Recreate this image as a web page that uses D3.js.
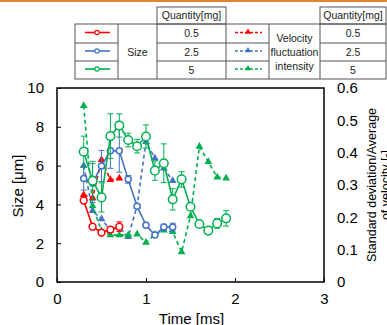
<!DOCTYPE html>
<html lang="en">
<head>
  <meta charset="UTF-8">
  <title>Size and velocity fluctuation intensity over time</title>
  <script src="https://d3js.org/d3.v7.min.js"></script>
  <style>
    body {
      margin: 0;
      background: #fff;
      font-family: "Liberation Sans", Arial, sans-serif;
    }
    .axis text {
      font-size: 15px;
      fill: #000;
    }
    .tbl text {
      font-size: 10.5px;
      fill: #222;
    }
  </style>
</head>
<body>
  <div id="chart"></div>
  <script>
    // data
    const timeRed = [0.3, 0.4, 0.5, 0.6, 0.7];
    const timeBlue = [0.3, 0.4, 0.5, 0.6, 0.7, 0.8, 0.9, 1.0, 1.1, 1.2, 1.3];
    const timeGreen = [0.3, 0.4, 0.5, 0.6, 0.7, 0.8, 0.9, 1.0, 1.1, 1.2, 1.3, 1.4, 1.5, 1.6, 1.7, 1.8, 1.9];

    const sizeRed = [4.2, 2.85, 2.55, 2.7, 2.85];
    const sizeRedErr = [0.1, 0.1, 0.1, 0.15, 0.25];
    const sizeBlue = [5.34, 5.1, 5.98, 6.76, 6.76, 5.29, 3.9, 2.93, 2.42, 2.83, 2.83];
    const sizeBlueErr = [0.6, 1.0, 0.8, 0.9, 1.1, 0.2, 0.1, 0.1, 0.1, 0.15, 0.2];
    const sizeGreen = [6.72, 5.22, 4.36, 7.52, 8.07, 7.32, 7.0, 7.5, 5.74, 6.12, 4.26, 5.29, 3.88, 2.99, 2.65, 3.02, 3.28];
    const sizeGreenErr = [0.8, 1.0, 0.75, 1.15, 0.6, 0.35, 0.35, 0.6, 0.5, 1.0, 0.55, 0.4, 0.1, 0.1, 0.1, 0.25, 0.4];

    const velRed = [0.27, 0.26, 0.378, 0.316, 0.321];
    const velBlue = [0.36, 0.22, 0.195, 0.16, 0.17, 0.14, 0.235, 0.434, 0.383, 0.352, 0.313];
    const velGreen = [0.545, 0.235, 0.158, 0.145, 0.145, 0.145, 0.148, 0.122, 0.147, 0.16, 0.155, 0.093, 0.204, 0.419, 0.372, 0.324, 0.321];

    const xTicks = [0, 1, 2, 3];
    const yTicks = [0, 2, 4, 6, 8, 10];
    const y2Ticks = [0, 0.1, 0.2, 0.3, 0.4, 0.5, 0.6];
    const quantities = ["0.5", "2.5", "5"];

    const colors = {red: "#ff0000", blue: "#4472c4", green: "#00b050"};

    const W = 387, H = 325;
    const svg = d3.select("#chart").append("svg")
      .attr("width", W)
      .attr("height", H);

    // orange rule on top
    svg.append("rect")
      .attr("x", 0).attr("y", 0)
      .attr("width", W).attr("height", 2)
      .attr("fill", "#e9822d");

    const plot = {left: 57, right: 324, top: 88, bottom: 282};

    const x = d3.scaleLinear().domain([0, 3]).range([plot.left, plot.right]);
    const y = d3.scaleLinear().domain([0, 10]).range([plot.bottom, plot.top]);
    const y2 = d3.scaleLinear().domain([0, 0.6]).range([plot.bottom, plot.top]);

    svg.append("rect")
      .attr("x", plot.left).attr("y", plot.top)
      .attr("width", plot.right - plot.left)
      .attr("height", plot.bottom - plot.top)
      .attr("fill", "none")
      .attr("stroke", "#000")
      .attr("stroke-width", 1.5);

    svg.append("g")
      .attr("class", "axis")
      .attr("transform", "translate(0," + plot.bottom + ")")
      .call(d3.axisBottom(x).tickValues(xTicks).tickSize(-4).tickPadding(11).tickFormat(d3.format("d")))
      .call(g => g.select(".domain").remove());

    svg.append("g")
      .attr("class", "axis")
      .attr("transform", "translate(" + plot.left + ",0)")
      .call(d3.axisLeft(y).tickValues(yTicks).tickSize(-4).tickPadding(13))
      .call(g => g.select(".domain").remove());

    svg.append("g")
      .attr("class", "axis")
      .attr("transform", "translate(" + plot.right + ",0)")
      .call(d3.axisRight(y2).tickValues(y2Ticks).tickSize(0).tickPadding(13)
        .tickFormat(d => d === 0 ? "0" : d3.format(".1f")(d)))
      .call(g => g.select(".domain").remove());

    // axis titles
    svg.append("text")
      .attr("x", (plot.left + plot.right) / 2 + 1)
      .attr("y", 324)
      .attr("text-anchor", "middle")
      .style("font-size", "15px")
      .text("Time [ms]");

    svg.append("text")
      .attr("transform", "translate(23,186) rotate(-90)")
      .attr("text-anchor", "middle")
      .style("font-size", "15px")
      .text("Size [μm]");

    const rTitle = svg.append("text")
      .attr("transform", "translate(376,185) rotate(-90)")
      .attr("text-anchor", "middle")
      .style("font-size", "12.5px");
    rTitle.append("tspan").attr("x", 0).attr("dy", 0).text("Standard deviation/Average");
    rTitle.append("tspan").attr("x", 0).attr("dy", "1.1em").text("of velocity [-]");

    const lineGen = (ys) => d3.line().x(d => x(d[0])).y(d => ys(d[1]));
    const tri = d3.symbol().type(d3.symbolTriangle).size(26);

    function velSeries(t, v, color) {
      const pts = t.map((d, i) => [d, v[i]]);
      svg.append("path")
        .datum(pts)
        .attr("d", lineGen(y2))
        .attr("fill", "none")
        .attr("stroke", color)
        .attr("stroke-width", 1.6)
        .attr("stroke-dasharray", "4,3");
      svg.append("g").selectAll("path")
        .data(pts)
        .enter().append("path")
        .attr("d", tri)
        .attr("transform", d => "translate(" + x(d[0]) + "," + y2(d[1]) + ")")
        .attr("fill", color);
    }

    function sizeSeries(t, s, err, color, r) {
      const pts = t.map((d, i) => [d, s[i], err[i]]);
      const eb = svg.append("g").attr("stroke", color).attr("stroke-width", 1);
      pts.forEach(d => {
        const cx = x(d[0]);
        const y0 = y(d[1] - d[2]), y1 = y(d[1] + d[2]);
        eb.append("line").attr("x1", cx).attr("x2", cx).attr("y1", y0).attr("y2", y1);
        eb.append("line").attr("x1", cx - 3).attr("x2", cx + 3).attr("y1", y0).attr("y2", y0);
        eb.append("line").attr("x1", cx - 3).attr("x2", cx + 3).attr("y1", y1).attr("y2", y1);
      });
      svg.append("path")
        .datum(pts)
        .attr("d", lineGen(y))
        .attr("fill", "none")
        .attr("stroke", color)
        .attr("stroke-width", 1.6);
      svg.append("g").selectAll("circle")
        .data(pts)
        .enter().append("circle")
        .attr("cx", d => x(d[0]))
        .attr("cy", d => y(d[1]))
        .attr("r", r)
        .attr("fill", "#fff")
        .attr("stroke", color)
        .attr("stroke-width", 1.5);
    }

    velSeries(timeBlue, velBlue, colors.blue);
    velSeries(timeGreen, velGreen, colors.green);
    velSeries(timeRed, velRed, colors.red);
    sizeSeries(timeBlue, sizeBlue, sizeBlueErr, colors.blue, 3);
    sizeSeries(timeGreen, sizeGreen, sizeGreenErr, colors.green, 4.3);
    sizeSeries(timeRed, sizeRed, sizeRedErr, colors.red, 3.4);

    // legend table
    const colX = [75, 118, 157, 226, 269, 320, 386];
    const rowY = [7, 24, 43, 61, 79];
    const tbl = svg.append("g").attr("class", "tbl");
    const border = tbl.append("g").attr("stroke", "#555").attr("stroke-width", 1).attr("fill", "none");

    // header cells
    [2, 5].forEach(c => {
      border.append("rect")
        .attr("x", colX[c]).attr("y", rowY[0])
        .attr("width", colX[c + 1] - colX[c]).attr("height", rowY[1] - rowY[0]);
      tbl.append("text")
        .attr("x", (colX[c] + colX[c + 1]) / 2)
        .attr("y", (rowY[0] + rowY[1]) / 2)
        .attr("dy", "0.35em")
        .attr("text-anchor", "middle")
        .text("Quantity[mg]");
    });
    // body outline
    border.append("rect")
      .attr("x", colX[0]).attr("y", rowY[1])
      .attr("width", colX[6] - colX[0]).attr("height", rowY[4] - rowY[1]);
    colX.slice(1, 6).forEach(cx => {
      border.append("line").attr("x1", cx).attr("x2", cx).attr("y1", rowY[1]).attr("y2", rowY[4]);
    });
    [0, 2, 3, 5].forEach(c => {
      [rowY[2], rowY[3]].forEach(ry => {
        border.append("line").attr("x1", colX[c]).attr("x2", colX[c + 1]).attr("y1", ry).attr("y2", ry);
      });
    });

    const seriesColors = [colors.red, colors.blue, colors.green];
    seriesColors.forEach((color, i) => {
      const cy = (rowY[i + 1] + rowY[i + 2]) / 2 - 1;
      // solid sample with circle
      tbl.append("line")
        .attr("x1", 85).attr("x2", 110).attr("y1", cy).attr("y2", cy)
        .attr("stroke", color).attr("stroke-width", 1.6);
      tbl.append("circle")
        .attr("cx", 97).attr("cy", cy).attr("r", 2.2)
        .attr("fill", "#fff").attr("stroke", color).attr("stroke-width", 1.2);
      // dashed sample with triangle
      tbl.append("line")
        .attr("x1", 235).attr("x2", 262).attr("y1", cy).attr("y2", cy)
        .attr("stroke", color).attr("stroke-width", 1.4).attr("stroke-dasharray", "3,2");
      tbl.append("path")
        .attr("d", d3.symbol().type(d3.symbolTriangle).size(16))
        .attr("transform", "translate(248," + (cy - 0.5) + ")")
        .attr("fill", color);
      // quantity values
      [2, 5].forEach(c => {
        tbl.append("text")
          .attr("x", (colX[c] + colX[c + 1]) / 2)
          .attr("y", cy + 1)
          .attr("dy", "0.35em")
          .attr("text-anchor", "middle")
          .text(quantities[i]);
      });
    });

    tbl.append("text")
      .attr("x", (colX[1] + colX[2]) / 2)
      .attr("y", 52)
      .attr("dy", "0.35em")
      .attr("text-anchor", "middle")
      .text("Size");

    ["Velocity", "fluctuation", "intensity"].forEach((w, i) => {
      tbl.append("text")
        .attr("x", (colX[4] + colX[5]) / 2)
        .attr("y", 38 + i * 14)
        .attr("dy", "0.35em")
        .attr("text-anchor", "middle")
        .text(w);
    });
  </script>
</body>
</html>
